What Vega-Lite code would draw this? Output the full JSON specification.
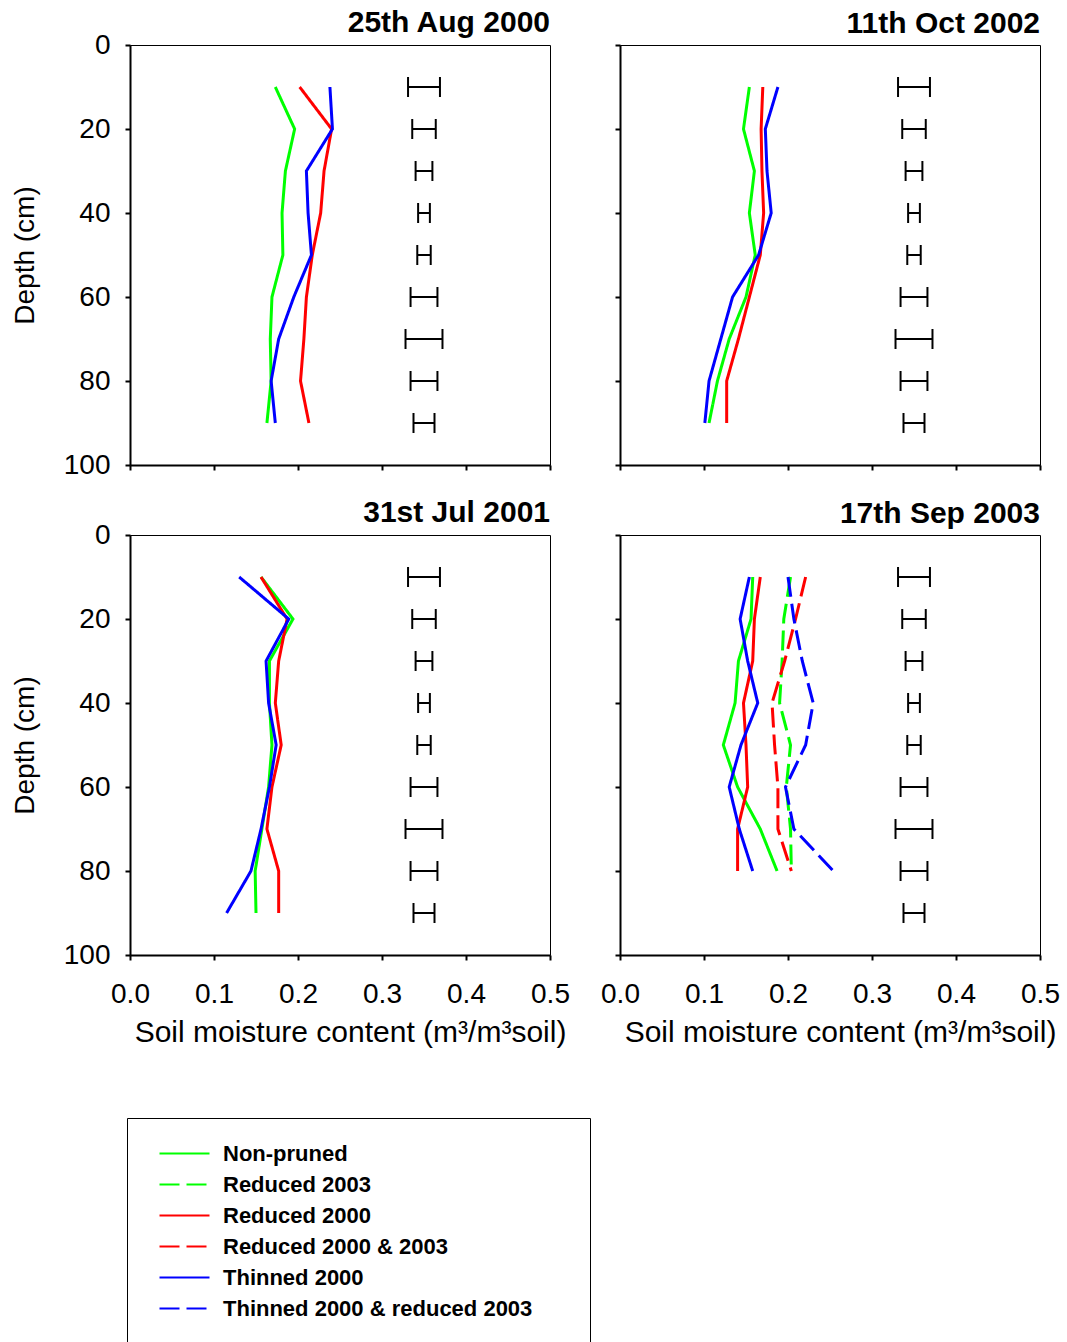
{
  "$schema": "https://vega.github.io/schema/vega-lite/v6.json",
  "padding": {"left": 10, "top": 7, "right": 5, "bottom": 0},
  "background": "white",
  "datasets": {
    "moist": [
      {"panel": "A", "treatment": "Non-pruned", "depth": 10, "moisture": 0.173},
      {"panel": "A", "treatment": "Non-pruned", "depth": 20, "moisture": 0.196},
      {"panel": "A", "treatment": "Non-pruned", "depth": 30, "moisture": 0.185},
      {"panel": "A", "treatment": "Non-pruned", "depth": 40, "moisture": 0.181},
      {"panel": "A", "treatment": "Non-pruned", "depth": 50, "moisture": 0.182},
      {"panel": "A", "treatment": "Non-pruned", "depth": 60, "moisture": 0.169},
      {"panel": "A", "treatment": "Non-pruned", "depth": 70, "moisture": 0.167},
      {"panel": "A", "treatment": "Non-pruned", "depth": 80, "moisture": 0.168},
      {"panel": "A", "treatment": "Non-pruned", "depth": 90, "moisture": 0.163},
      {"panel": "A", "treatment": "Reduced 2000", "depth": 10, "moisture": 0.202},
      {"panel": "A", "treatment": "Reduced 2000", "depth": 20, "moisture": 0.240},
      {"panel": "A", "treatment": "Reduced 2000", "depth": 30, "moisture": 0.231},
      {"panel": "A", "treatment": "Reduced 2000", "depth": 40, "moisture": 0.227},
      {"panel": "A", "treatment": "Reduced 2000", "depth": 50, "moisture": 0.217},
      {"panel": "A", "treatment": "Reduced 2000", "depth": 60, "moisture": 0.210},
      {"panel": "A", "treatment": "Reduced 2000", "depth": 70, "moisture": 0.207},
      {"panel": "A", "treatment": "Reduced 2000", "depth": 80, "moisture": 0.203},
      {"panel": "A", "treatment": "Reduced 2000", "depth": 90, "moisture": 0.213},
      {"panel": "A", "treatment": "Thinned 2000", "depth": 10, "moisture": 0.238},
      {"panel": "A", "treatment": "Thinned 2000", "depth": 20, "moisture": 0.241},
      {"panel": "A", "treatment": "Thinned 2000", "depth": 30, "moisture": 0.210},
      {"panel": "A", "treatment": "Thinned 2000", "depth": 40, "moisture": 0.212},
      {"panel": "A", "treatment": "Thinned 2000", "depth": 50, "moisture": 0.216},
      {"panel": "A", "treatment": "Thinned 2000", "depth": 60, "moisture": 0.195},
      {"panel": "A", "treatment": "Thinned 2000", "depth": 70, "moisture": 0.177},
      {"panel": "A", "treatment": "Thinned 2000", "depth": 80, "moisture": 0.168},
      {"panel": "A", "treatment": "Thinned 2000", "depth": 90, "moisture": 0.173},

      {"panel": "B", "treatment": "Non-pruned", "depth": 10, "moisture": 0.154},
      {"panel": "B", "treatment": "Non-pruned", "depth": 20, "moisture": 0.147},
      {"panel": "B", "treatment": "Non-pruned", "depth": 30, "moisture": 0.160},
      {"panel": "B", "treatment": "Non-pruned", "depth": 40, "moisture": 0.154},
      {"panel": "B", "treatment": "Non-pruned", "depth": 50, "moisture": 0.161},
      {"panel": "B", "treatment": "Non-pruned", "depth": 60, "moisture": 0.150},
      {"panel": "B", "treatment": "Non-pruned", "depth": 70, "moisture": 0.130},
      {"panel": "B", "treatment": "Non-pruned", "depth": 80, "moisture": 0.116},
      {"panel": "B", "treatment": "Non-pruned", "depth": 90, "moisture": 0.106},
      {"panel": "B", "treatment": "Reduced 2000", "depth": 10, "moisture": 0.170},
      {"panel": "B", "treatment": "Reduced 2000", "depth": 20, "moisture": 0.168},
      {"panel": "B", "treatment": "Reduced 2000", "depth": 30, "moisture": 0.169},
      {"panel": "B", "treatment": "Reduced 2000", "depth": 40, "moisture": 0.171},
      {"panel": "B", "treatment": "Reduced 2000", "depth": 50, "moisture": 0.167},
      {"panel": "B", "treatment": "Reduced 2000", "depth": 60, "moisture": 0.154},
      {"panel": "B", "treatment": "Reduced 2000", "depth": 70, "moisture": 0.141},
      {"panel": "B", "treatment": "Reduced 2000", "depth": 80, "moisture": 0.127},
      {"panel": "B", "treatment": "Reduced 2000", "depth": 90, "moisture": 0.127},
      {"panel": "B", "treatment": "Thinned 2000", "depth": 10, "moisture": 0.188},
      {"panel": "B", "treatment": "Thinned 2000", "depth": 20, "moisture": 0.173},
      {"panel": "B", "treatment": "Thinned 2000", "depth": 30, "moisture": 0.175},
      {"panel": "B", "treatment": "Thinned 2000", "depth": 40, "moisture": 0.180},
      {"panel": "B", "treatment": "Thinned 2000", "depth": 50, "moisture": 0.165},
      {"panel": "B", "treatment": "Thinned 2000", "depth": 60, "moisture": 0.134},
      {"panel": "B", "treatment": "Thinned 2000", "depth": 70, "moisture": 0.120},
      {"panel": "B", "treatment": "Thinned 2000", "depth": 80, "moisture": 0.106},
      {"panel": "B", "treatment": "Thinned 2000", "depth": 90, "moisture": 0.101},

      {"panel": "C", "treatment": "Non-pruned", "depth": 10, "moisture": 0.156},
      {"panel": "C", "treatment": "Non-pruned", "depth": 20, "moisture": 0.194},
      {"panel": "C", "treatment": "Non-pruned", "depth": 30, "moisture": 0.166},
      {"panel": "C", "treatment": "Non-pruned", "depth": 40, "moisture": 0.166},
      {"panel": "C", "treatment": "Non-pruned", "depth": 50, "moisture": 0.169},
      {"panel": "C", "treatment": "Non-pruned", "depth": 60, "moisture": 0.165},
      {"panel": "C", "treatment": "Non-pruned", "depth": 70, "moisture": 0.157},
      {"panel": "C", "treatment": "Non-pruned", "depth": 80, "moisture": 0.149},
      {"panel": "C", "treatment": "Non-pruned", "depth": 90, "moisture": 0.150},
      {"panel": "C", "treatment": "Reduced 2000", "depth": 10, "moisture": 0.156},
      {"panel": "C", "treatment": "Reduced 2000", "depth": 20, "moisture": 0.187},
      {"panel": "C", "treatment": "Reduced 2000", "depth": 30, "moisture": 0.177},
      {"panel": "C", "treatment": "Reduced 2000", "depth": 40, "moisture": 0.173},
      {"panel": "C", "treatment": "Reduced 2000", "depth": 50, "moisture": 0.180},
      {"panel": "C", "treatment": "Reduced 2000", "depth": 60, "moisture": 0.169},
      {"panel": "C", "treatment": "Reduced 2000", "depth": 70, "moisture": 0.163},
      {"panel": "C", "treatment": "Reduced 2000", "depth": 80, "moisture": 0.177},
      {"panel": "C", "treatment": "Reduced 2000", "depth": 90, "moisture": 0.177},
      {"panel": "C", "treatment": "Thinned 2000", "depth": 10, "moisture": 0.130},
      {"panel": "C", "treatment": "Thinned 2000", "depth": 20, "moisture": 0.189},
      {"panel": "C", "treatment": "Thinned 2000", "depth": 30, "moisture": 0.162},
      {"panel": "C", "treatment": "Thinned 2000", "depth": 40, "moisture": 0.165},
      {"panel": "C", "treatment": "Thinned 2000", "depth": 50, "moisture": 0.174},
      {"panel": "C", "treatment": "Thinned 2000", "depth": 60, "moisture": 0.166},
      {"panel": "C", "treatment": "Thinned 2000", "depth": 70, "moisture": 0.156},
      {"panel": "C", "treatment": "Thinned 2000", "depth": 80, "moisture": 0.144},
      {"panel": "C", "treatment": "Thinned 2000", "depth": 90, "moisture": 0.115},

      {"panel": "D", "treatment": "Non-pruned", "depth": 10, "moisture": 0.158},
      {"panel": "D", "treatment": "Non-pruned", "depth": 20, "moisture": 0.156},
      {"panel": "D", "treatment": "Non-pruned", "depth": 30, "moisture": 0.141},
      {"panel": "D", "treatment": "Non-pruned", "depth": 40, "moisture": 0.137},
      {"panel": "D", "treatment": "Non-pruned", "depth": 50, "moisture": 0.123},
      {"panel": "D", "treatment": "Non-pruned", "depth": 60, "moisture": 0.140},
      {"panel": "D", "treatment": "Non-pruned", "depth": 70, "moisture": 0.167},
      {"panel": "D", "treatment": "Non-pruned", "depth": 80, "moisture": 0.187},
      {"panel": "D", "treatment": "Reduced 2003", "depth": 10, "moisture": 0.203},
      {"panel": "D", "treatment": "Reduced 2003", "depth": 20, "moisture": 0.195},
      {"panel": "D", "treatment": "Reduced 2003", "depth": 30, "moisture": 0.193},
      {"panel": "D", "treatment": "Reduced 2003", "depth": 40, "moisture": 0.190},
      {"panel": "D", "treatment": "Reduced 2003", "depth": 50, "moisture": 0.203},
      {"panel": "D", "treatment": "Reduced 2003", "depth": 60, "moisture": 0.198},
      {"panel": "D", "treatment": "Reduced 2003", "depth": 70, "moisture": 0.203},
      {"panel": "D", "treatment": "Reduced 2003", "depth": 80, "moisture": 0.204},
      {"panel": "D", "treatment": "Reduced 2000", "depth": 10, "moisture": 0.167},
      {"panel": "D", "treatment": "Reduced 2000", "depth": 20, "moisture": 0.160},
      {"panel": "D", "treatment": "Reduced 2000", "depth": 30, "moisture": 0.158},
      {"panel": "D", "treatment": "Reduced 2000", "depth": 40, "moisture": 0.147},
      {"panel": "D", "treatment": "Reduced 2000", "depth": 50, "moisture": 0.150},
      {"panel": "D", "treatment": "Reduced 2000", "depth": 60, "moisture": 0.152},
      {"panel": "D", "treatment": "Reduced 2000", "depth": 70, "moisture": 0.140},
      {"panel": "D", "treatment": "Reduced 2000", "depth": 80, "moisture": 0.140},
      {"panel": "D", "treatment": "Reduced 2000 & 2003", "depth": 10, "moisture": 0.221},
      {"panel": "D", "treatment": "Reduced 2000 & 2003", "depth": 20, "moisture": 0.209},
      {"panel": "D", "treatment": "Reduced 2000 & 2003", "depth": 30, "moisture": 0.196},
      {"panel": "D", "treatment": "Reduced 2000 & 2003", "depth": 40, "moisture": 0.181},
      {"panel": "D", "treatment": "Reduced 2000 & 2003", "depth": 50, "moisture": 0.184},
      {"panel": "D", "treatment": "Reduced 2000 & 2003", "depth": 60, "moisture": 0.188},
      {"panel": "D", "treatment": "Reduced 2000 & 2003", "depth": 70, "moisture": 0.188},
      {"panel": "D", "treatment": "Reduced 2000 & 2003", "depth": 80, "moisture": 0.204},
      {"panel": "D", "treatment": "Thinned 2000", "depth": 10, "moisture": 0.154},
      {"panel": "D", "treatment": "Thinned 2000", "depth": 20, "moisture": 0.143},
      {"panel": "D", "treatment": "Thinned 2000", "depth": 30, "moisture": 0.152},
      {"panel": "D", "treatment": "Thinned 2000", "depth": 40, "moisture": 0.164},
      {"panel": "D", "treatment": "Thinned 2000", "depth": 50, "moisture": 0.144},
      {"panel": "D", "treatment": "Thinned 2000", "depth": 60, "moisture": 0.130},
      {"panel": "D", "treatment": "Thinned 2000", "depth": 70, "moisture": 0.142},
      {"panel": "D", "treatment": "Thinned 2000", "depth": 80, "moisture": 0.158},
      {"panel": "D", "treatment": "Thinned 2000 & reduced 2003", "depth": 10, "moisture": 0.200},
      {"panel": "D", "treatment": "Thinned 2000 & reduced 2003", "depth": 20, "moisture": 0.207},
      {"panel": "D", "treatment": "Thinned 2000 & reduced 2003", "depth": 30, "moisture": 0.217},
      {"panel": "D", "treatment": "Thinned 2000 & reduced 2003", "depth": 40, "moisture": 0.230},
      {"panel": "D", "treatment": "Thinned 2000 & reduced 2003", "depth": 50, "moisture": 0.221},
      {"panel": "D", "treatment": "Thinned 2000 & reduced 2003", "depth": 60, "moisture": 0.197},
      {"panel": "D", "treatment": "Thinned 2000 & reduced 2003", "depth": 70, "moisture": 0.207},
      {"panel": "D", "treatment": "Thinned 2000 & reduced 2003", "depth": 80, "moisture": 0.254}
    ],
    "err": [
      {"depth": 10, "lo": 0.331, "hi": 0.369},
      {"depth": 20, "lo": 0.336, "hi": 0.364},
      {"depth": 30, "lo": 0.340, "hi": 0.360},
      {"depth": 40, "lo": 0.343, "hi": 0.357},
      {"depth": 50, "lo": 0.342, "hi": 0.358},
      {"depth": 60, "lo": 0.334, "hi": 0.366},
      {"depth": 70, "lo": 0.328, "hi": 0.372},
      {"depth": 80, "lo": 0.334, "hi": 0.366},
      {"depth": 90, "lo": 0.3375, "hi": 0.3625}
    ]
  },
  "columns": 2,
  "spacing": {"row": 70, "column": 70},
  "bounds": "flush",
  "concat": [
    {
      "title": {"text": "25th Aug 2000", "offset": -7},
      "width": 420, "height": 420,
      "layer": [
        {
          "data": {"name": "moist"},
          "transform": [{"filter": "datum.panel === 'A'"}],
          "mark": {"type": "line", "strokeWidth": 3},
          "encoding": {
            "x": {"field": "moisture", "type": "quantitative", "scale": {"domain": [0, 0.5]}, "axis": {"labels": false, "title": null}},
            "y": {"field": "depth", "type": "quantitative", "scale": {"domain": [0, 100], "reverse": true}, "axis": {"title": "Depth (cm)"}},
            "color": {"field": "treatment", "type": "nominal", "scale": {"domain": ["Non-pruned", "Reduced 2003", "Reduced 2000", "Reduced 2000 & 2003", "Thinned 2000", "Thinned 2000 & reduced 2003"], "range": ["#00ff00", "#00ff00", "#ff0000", "#ff0000", "#0000ff", "#0000ff"]}},
            "strokeDash": {"field": "treatment", "type": "nominal", "scale": {"domain": ["Non-pruned", "Reduced 2003", "Reduced 2000", "Reduced 2000 & 2003", "Thinned 2000", "Thinned 2000 & reduced 2003"], "range": [[1, 0], [20, 7], [1, 0], [20, 7], [1, 0], [20, 7]]}},
            "order": {"field": "depth", "type": "quantitative"}
          }
        },
        {
          "data": {"name": "err"},
          "mark": {"type": "rule", "strokeWidth": 2, "color": "black"},
          "encoding": {
            "x": {"field": "lo", "type": "quantitative", "axis": {"labels": false, "title": null}},
            "x2": {"field": "hi"},
            "y": {"field": "depth", "type": "quantitative", "axis": {"title": "Depth (cm)"}}
          }
        },
        {
          "data": {"name": "err"},
          "mark": {"type": "tick", "orient": "vertical", "size": 20, "thickness": 2, "color": "black", "opacity": 1},
          "encoding": {
            "x": {"field": "lo", "type": "quantitative", "axis": {"labels": false, "title": null}},
            "y": {"field": "depth", "type": "quantitative", "axis": {"title": "Depth (cm)"}}
          }
        },
        {
          "data": {"name": "err"},
          "mark": {"type": "tick", "orient": "vertical", "size": 20, "thickness": 2, "color": "black", "opacity": 1},
          "encoding": {
            "x": {"field": "hi", "type": "quantitative", "axis": {"labels": false, "title": null}},
            "y": {"field": "depth", "type": "quantitative", "axis": {"title": "Depth (cm)"}}
          }
        }
      ]
    },
    {
      "title": {"text": "11th Oct 2002", "offset": 5},
      "width": 420, "height": 420,
      "layer": [
        {
          "data": {"name": "moist"},
          "transform": [{"filter": "datum.panel === 'B'"}],
          "mark": {"type": "line", "strokeWidth": 3},
          "encoding": {
            "x": {"field": "moisture", "type": "quantitative", "scale": {"domain": [0, 0.5]}, "axis": {"labels": false, "title": null}},
            "y": {"field": "depth", "type": "quantitative", "scale": {"domain": [0, 100], "reverse": true}, "axis": {"labels": false, "title": null}},
            "color": {"field": "treatment", "type": "nominal", "scale": {"domain": ["Non-pruned", "Reduced 2003", "Reduced 2000", "Reduced 2000 & 2003", "Thinned 2000", "Thinned 2000 & reduced 2003"], "range": ["#00ff00", "#00ff00", "#ff0000", "#ff0000", "#0000ff", "#0000ff"]}},
            "strokeDash": {"field": "treatment", "type": "nominal", "scale": {"domain": ["Non-pruned", "Reduced 2003", "Reduced 2000", "Reduced 2000 & 2003", "Thinned 2000", "Thinned 2000 & reduced 2003"], "range": [[1, 0], [20, 7], [1, 0], [20, 7], [1, 0], [20, 7]]}},
            "order": {"field": "depth", "type": "quantitative"}
          }
        },
        {
          "data": {"name": "err"},
          "mark": {"type": "rule", "strokeWidth": 2, "color": "black"},
          "encoding": {
            "x": {"field": "lo", "type": "quantitative", "axis": {"labels": false, "title": null}},
            "x2": {"field": "hi"},
            "y": {"field": "depth", "type": "quantitative", "axis": {"labels": false, "title": null}}
          }
        },
        {
          "data": {"name": "err"},
          "mark": {"type": "tick", "orient": "vertical", "size": 20, "thickness": 2, "color": "black", "opacity": 1},
          "encoding": {
            "x": {"field": "lo", "type": "quantitative", "axis": {"labels": false, "title": null}},
            "y": {"field": "depth", "type": "quantitative", "axis": {"labels": false, "title": null}}
          }
        },
        {
          "data": {"name": "err"},
          "mark": {"type": "tick", "orient": "vertical", "size": 20, "thickness": 2, "color": "black", "opacity": 1},
          "encoding": {
            "x": {"field": "hi", "type": "quantitative", "axis": {"labels": false, "title": null}},
            "y": {"field": "depth", "type": "quantitative", "axis": {"labels": false, "title": null}}
          }
        }
      ]
    },
    {
      "title": {"text": "31st Jul 2001", "offset": -7},
      "width": 420, "height": 420,
      "layer": [
        {
          "data": {"name": "moist"},
          "transform": [{"filter": "datum.panel === 'C'"}],
          "mark": {"type": "line", "strokeWidth": 3},
          "encoding": {
            "x": {"field": "moisture", "type": "quantitative", "scale": {"domain": [0, 0.5]}, "axis": {"format": ".1f", "title": "Soil moisture content (m³/m³soil)"}},
            "y": {"field": "depth", "type": "quantitative", "scale": {"domain": [0, 100], "reverse": true}, "axis": {"title": "Depth (cm)"}},
            "color": {"field": "treatment", "type": "nominal", "scale": {"domain": ["Non-pruned", "Reduced 2003", "Reduced 2000", "Reduced 2000 & 2003", "Thinned 2000", "Thinned 2000 & reduced 2003"], "range": ["#00ff00", "#00ff00", "#ff0000", "#ff0000", "#0000ff", "#0000ff"]}},
            "strokeDash": {"field": "treatment", "type": "nominal", "scale": {"domain": ["Non-pruned", "Reduced 2003", "Reduced 2000", "Reduced 2000 & 2003", "Thinned 2000", "Thinned 2000 & reduced 2003"], "range": [[1, 0], [20, 7], [1, 0], [20, 7], [1, 0], [20, 7]]}},
            "order": {"field": "depth", "type": "quantitative"}
          }
        },
        {
          "data": {"name": "err"},
          "mark": {"type": "rule", "strokeWidth": 2, "color": "black"},
          "encoding": {
            "x": {"field": "lo", "type": "quantitative", "axis": {"format": ".1f", "title": "Soil moisture content (m³/m³soil)"}},
            "x2": {"field": "hi"},
            "y": {"field": "depth", "type": "quantitative", "axis": {"title": "Depth (cm)"}}
          }
        },
        {
          "data": {"name": "err"},
          "mark": {"type": "tick", "orient": "vertical", "size": 20, "thickness": 2, "color": "black", "opacity": 1},
          "encoding": {
            "x": {"field": "lo", "type": "quantitative", "axis": {"format": ".1f", "title": "Soil moisture content (m³/m³soil)"}},
            "y": {"field": "depth", "type": "quantitative", "axis": {"title": "Depth (cm)"}}
          }
        },
        {
          "data": {"name": "err"},
          "mark": {"type": "tick", "orient": "vertical", "size": 20, "thickness": 2, "color": "black", "opacity": 1},
          "encoding": {
            "x": {"field": "hi", "type": "quantitative", "axis": {"format": ".1f", "title": "Soil moisture content (m³/m³soil)"}},
            "y": {"field": "depth", "type": "quantitative", "axis": {"title": "Depth (cm)"}}
          }
        }
      ]
    },
    {
      "title": {"text": "17th Sep 2003", "offset": 5},
      "width": 420, "height": 420,
      "layer": [
        {
          "data": {"name": "moist"},
          "transform": [{"filter": "datum.panel === 'D'"}],
          "mark": {"type": "line", "strokeWidth": 3},
          "encoding": {
            "x": {"field": "moisture", "type": "quantitative", "scale": {"domain": [0, 0.5]}, "axis": {"format": ".1f", "title": "Soil moisture content (m³/m³soil)"}},
            "y": {"field": "depth", "type": "quantitative", "scale": {"domain": [0, 100], "reverse": true}, "axis": {"labels": false, "title": null}},
            "color": {"field": "treatment", "type": "nominal", "scale": {"domain": ["Non-pruned", "Reduced 2003", "Reduced 2000", "Reduced 2000 & 2003", "Thinned 2000", "Thinned 2000 & reduced 2003"], "range": ["#00ff00", "#00ff00", "#ff0000", "#ff0000", "#0000ff", "#0000ff"]}},
            "strokeDash": {"field": "treatment", "type": "nominal", "scale": {"domain": ["Non-pruned", "Reduced 2003", "Reduced 2000", "Reduced 2000 & 2003", "Thinned 2000", "Thinned 2000 & reduced 2003"], "range": [[1, 0], [20, 7], [1, 0], [20, 7], [1, 0], [20, 7]]}},
            "order": {"field": "depth", "type": "quantitative"}
          }
        },
        {
          "data": {"name": "err"},
          "mark": {"type": "rule", "strokeWidth": 2, "color": "black"},
          "encoding": {
            "x": {"field": "lo", "type": "quantitative", "axis": {"format": ".1f", "title": "Soil moisture content (m³/m³soil)"}},
            "x2": {"field": "hi"},
            "y": {"field": "depth", "type": "quantitative", "axis": {"labels": false, "title": null}}
          }
        },
        {
          "data": {"name": "err"},
          "mark": {"type": "tick", "orient": "vertical", "size": 20, "thickness": 2, "color": "black", "opacity": 1},
          "encoding": {
            "x": {"field": "lo", "type": "quantitative", "axis": {"format": ".1f", "title": "Soil moisture content (m³/m³soil)"}},
            "y": {"field": "depth", "type": "quantitative", "axis": {"labels": false, "title": null}}
          }
        },
        {
          "data": {"name": "err"},
          "mark": {"type": "tick", "orient": "vertical", "size": 20, "thickness": 2, "color": "black", "opacity": 1},
          "encoding": {
            "x": {"field": "hi", "type": "quantitative", "axis": {"format": ".1f", "title": "Soil moisture content (m³/m³soil)"}},
            "y": {"field": "depth", "type": "quantitative", "axis": {"labels": false, "title": null}}
          }
        }
      ]
    }
  ],
  "config": {
    "font": "Liberation Sans",
    "view": {"stroke": "black", "strokeWidth": 1},
    "axis": {
      "grid": false,
      "domainColor": "black", "domainWidth": 2,
      "tickColor": "black", "tickWidth": 2, "tickSize": 5,
      "labelFont": "Liberation Sans", "labelFontSize": 28, "labelColor": "black", "labelFlush": false,
      "titleFont": "Liberation Sans", "titleFontSize": 28, "titleFontWeight": "normal", "titleColor": "black"
    },
    "axisX": {"tickCount": 5, "labelPadding": 20, "titlePadding": 9, "titleX": 220, "titleFontSize": 30},
    "axisY": {"tickCount": 5, "labelPadding": 15, "titlePadding": 24},
    "title": {"anchor": "end", "frame": "group", "fontSize": 30, "fontWeight": "bold", "font": "Liberation Sans", "color": "black", "baseline": "alphabetic"},
    "legend": {
      "orient": "none", "legendX": -3, "legendY": 1073,
      "title": null,
      "symbolType": "M-2,0H2M30.3,0", "symbolSize": 625, "symbolStrokeWidth": 2, "symbolOffset": 22,
      "labelFont": "Liberation Sans", "labelFontSize": 22, "labelFontWeight": "bold", "labelColor": "black",
      "labelOffset": 25, "labelLimit": 400, "rowPadding": 6, "padding": 22,
      "strokeColor": "black", "fillColor": "white", "cornerRadius": 0
    }
  }
}
